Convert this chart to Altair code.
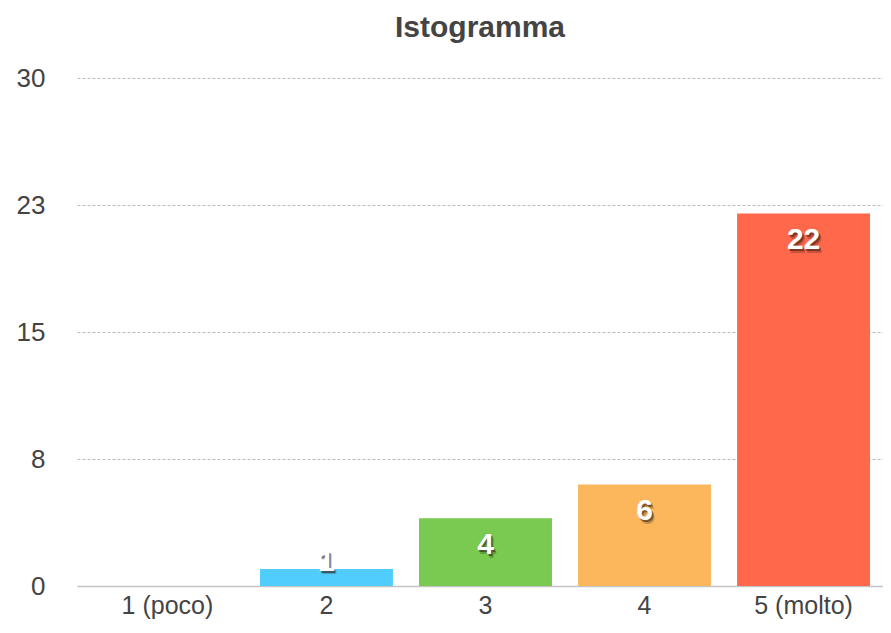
import altair as alt
import pandas as pd

categories = ["1 (poco)", "2", "3", "4", "5 (molto)"]
values = [0, 1, 4, 6, 22]
colors = ["#A77FD6", "#50CDFC", "#7AC950", "#FCB75D", "#FF684A"]
y_ticks = [0, 7.5, 15, 22.5, 30]

df = pd.DataFrame({"categoria": categories, "valore": values})

FONT = "Liberation Sans"

x_enc = alt.X(
    "categoria:N", sort=categories, title=None,
    scale=alt.Scale(paddingInner=0.164, paddingOuter=0.116, align=0.649),
    axis=alt.Axis(labelAngle=0, labelFontSize=25, labelColor="#444", labelFont=FONT,
                  ticks=False, domainColor="#c4c4c4", domainWidth=1.5,
                  labelPadding=7, grid=False),
)
y_enc = alt.Y(
    "valore:Q", title=None,
    scale=alt.Scale(domain=[0, 30], nice=False),
    axis=alt.Axis(values=y_ticks, format=".0f", labelFontSize=26, labelColor="#444",
                  labelFont=FONT, ticks=False, domain=False, labelPadding=32,
                  grid=True, gridDash=[3, 2], gridColor="#bbbbbb", gridWidth=1),
)

bars = alt.Chart(df).mark_bar().encode(
    x=x_enc, y=y_enc,
    color=alt.Color("categoria:N", sort=categories,
                    scale=alt.Scale(domain=categories, range=colors), legend=None),
)

base_text = alt.Chart(df).transform_filter("datum.valore > 0").transform_calculate(
    pos="max(datum.valore - 1.59, 1.42)"
)

def label_layer(color, opacity, dx, dy):
    return base_text.mark_text(
        fontSize=30, fontWeight="bold", font=FONT, color=color, opacity=opacity,
        baseline="middle", align="center", dx=dx, dy=dy,
    ).encode(
        x=alt.X("categoria:N", sort=categories),
        y=alt.Y("pos:Q"),
        text=alt.Text("valore:Q"),
    )

shadow2 = label_layer("#000000", 0.2, 2.5, 3.5)
shadow1 = label_layer("#3a1a10", 0.55, 1.5, 2)
labels = label_layer("#ffffff", 1, 0, 0)

chart = alt.layer(bars, shadow2, shadow1, labels).properties(
    width=806, height=508,
    title=alt.Title("Istogramma", fontSize=30, fontWeight="bold", color="#444",
                    font=FONT, anchor="middle", offset=22),
    autosize=alt.AutoSizeParams(type="none"),
    padding={"left": 69, "top": 70, "right": 0, "bottom": 35},
).configure_view(stroke=None)

chart.save("out.html", embed_options={"renderer": "svg", "actions": False})
